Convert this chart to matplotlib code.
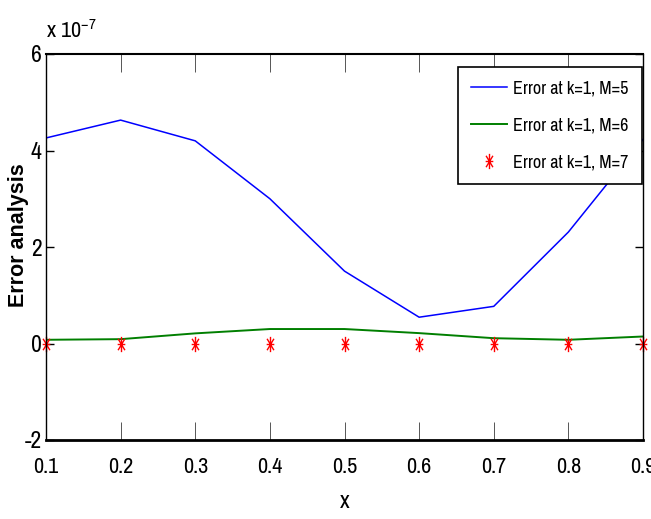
import numpy as np
import matplotlib
matplotlib.use('Agg')
import matplotlib.pyplot as plt
from matplotlib.path import Path

# data (values in units of 1e-7)
x = [0.1, 0.2, 0.3, 0.4, 0.5, 0.6, 0.7, 0.8, 0.9]
err_m5 = [4.26, 4.63, 4.20, 3.00, 1.50, 0.545, 0.77, 2.31, 4.23]
err_m6 = [0.077, 0.09, 0.21, 0.30, 0.30, 0.215, 0.11, 0.077, 0.145]
err_m7 = [0.0, 0.0, 0.0, 0.0, 0.0, 0.0, 0.0, 0.0, 0.0]
labels = ['Error at k=1, M=5', 'Error at k=1, M=6', 'Error at k=1, M=7']
xticks = [0.1, 0.2, 0.3, 0.4, 0.5, 0.6, 0.7, 0.8, 0.9]
yticks = [-2, 0, 2, 4, 6]

narrow = ['Archivo Narrow', 'Liberation Sans', 'DejaVu Sans']
plt.rcParams['font.family'] = narrow
plt.rcParams['axes.unicode_minus'] = False
plt.rcParams['mathtext.default'] = 'regular'

# matlab style asterisk (a bit taller than wide)
star = Path([(0, -1), (0, 1), (-0.5, 0), (0.5, 0), (-0.45, -0.75), (0.45, 0.75),
             (-0.45, 0.75), (0.45, -0.75)],
            [Path.MOVETO, Path.LINETO] * 4)

fig = plt.figure(figsize=(6.51, 5.19), dpi=100)
ax = fig.add_axes([46 / 651, 1 - 440 / 519, (643 - 46) / 651, (440 - 54) / 519])

ax.plot(x, err_m5, color='#0000ff', lw=1.1, label=labels[0])
ax.plot(x, err_m6, color='#007f00', lw=1.4, label=labels[1])
ax.plot(x, err_m7, ls='none', marker=star, ms=11, mew=1.0, color='#ff0000',
        label=labels[2], clip_on=False)

ax.set_xlim(0.1, 0.9)
ax.set_ylim(-2, 6)
ax.set_xticks(xticks)
ax.set_xticklabels([str(v) for v in xticks])
ax.set_yticks(yticks)
ax.tick_params(axis='x', which='both', direction='in', length=13, width=0.7,
               color='#555555', top=True, labelsize=16, pad=12)
ax.tick_params(axis='y', which='both', direction='in', length=6, width=1.0,
               right=True, labelsize=17, pad=3)
for s in ax.spines.values():
    s.set_linewidth(1.0)
ax.spines['bottom'].set_linewidth(2.0)
ax.spines['top'].set_linewidth(1.5)

ax.set_xlabel('x', fontsize=17, labelpad=10)
ax.set_ylabel('Error analysis', fontsize=15.5, fontweight='bold',
              family=['Liberation Sans', 'DejaVu Sans'])
ax.yaxis.set_label_coords(-0.028, 0.53)

fig.text(46 / 651, 1 - 38 / 519, 'x 10$^{-7}$', fontsize=16, ha='left', va='baseline')

leg = ax.legend(loc='upper right', bbox_to_anchor=(0.999, 1 - 13 / 386), borderaxespad=0,
                fontsize=13, frameon=True, fancybox=False, edgecolor='black',
                handlelength=2.0, handletextpad=0.35, labelspacing=1.15,
                borderpad=0.75, framealpha=1)
leg.get_frame().set_linewidth(1.2)

fig.savefig('out.png', dpi=100)
